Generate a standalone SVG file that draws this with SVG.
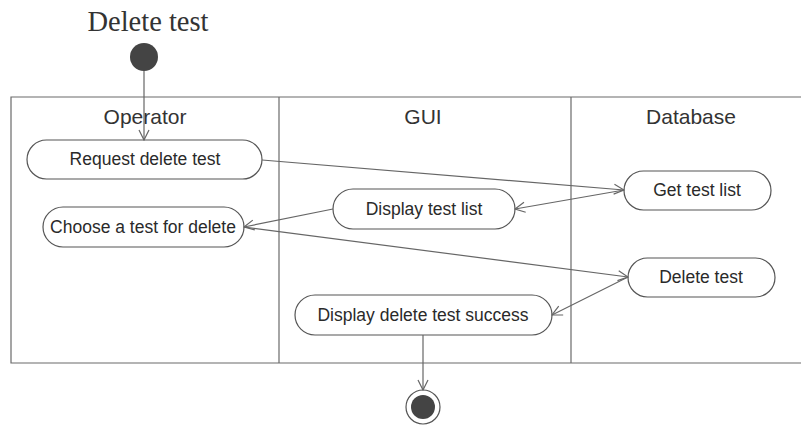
<svg xmlns="http://www.w3.org/2000/svg" width="801" height="425" viewBox="0 0 801 425">
<defs>
<style>
.lane{fill:none;stroke:#6a6a6a;stroke-width:1.2}
.node rect{fill:#fff;stroke:#555;stroke-width:1.2}
.node text{font-family:"Liberation Sans",Arial,sans-serif;font-size:17.5px;fill:#2a2a2a;text-anchor:middle;dominant-baseline:central}
.hdr{font-family:"Liberation Sans",Arial,sans-serif;font-size:21px;fill:#333;text-anchor:middle}
.edge{fill:none;stroke:#666;stroke-width:1.2;marker-end:url(#arr)}
</style>
<marker id="arr" viewBox="0 0 12 12" refX="11" refY="6" markerWidth="12" markerHeight="12" markerUnits="userSpaceOnUse" orient="auto">
<path d="M1,1 L11,6 L1,11" fill="none" stroke="#666" stroke-width="1.2"/>
</marker>
</defs>
<rect width="801" height="425" fill="#fff"/>
<text x="148" y="31" font-family="Liberation Serif,'Times New Roman',serif" font-size="28.5" fill="#333" text-anchor="middle">Delete test</text>
<g id="lanes">
<path class="lane" d="M801,97 H11 V363 H801"/>
<line class="lane" x1="279" y1="97" x2="279" y2="363"/>
<line class="lane" x1="571" y1="97" x2="571" y2="363"/>
<text class="hdr" x="145" y="124">Operator</text>
<text class="hdr" x="423" y="124">GUI</text>
<text class="hdr" x="691" y="124">Database</text>
</g>
<g id="start"><circle cx="144" cy="57" r="14" fill="#444"/></g>
<g id="request" class="node"><rect x="27" y="140" width="235" height="39" rx="19.5"/><text x="145" y="159">Request delete test</text></g>
<g id="choose" class="node"><rect x="43" y="207" width="201" height="40" rx="20"/><text x="143" y="227">Choose a test for delete</text></g>
<g id="display-list" class="node"><rect x="333" y="189" width="182" height="40" rx="20"/><text x="424" y="209">Display test list</text></g>
<g id="display-success" class="node"><rect x="295" y="295" width="257" height="40" rx="20"/><text x="423" y="315">Display delete test success</text></g>
<g id="get-list" class="node"><rect x="624" y="171" width="147" height="39" rx="19.5"/><text x="697" y="190">Get test list</text></g>
<g id="delete" class="node"><rect x="628" y="258" width="147" height="39" rx="19.5"/><text x="701" y="277">Delete test</text></g>
<g id="end"><circle cx="423" cy="407" r="17" fill="#fff" stroke="#555" stroke-width="1.2"/><circle cx="423" cy="407" r="12" fill="#444"/></g>
<g id="connectors">
<path class="edge" d="M144,71 V140"/>
<path class="edge" d="M262,160 L624,190"/>
<path class="edge" d="M624,190 L515,209"/>
<path class="edge" d="M333,209 L244,227"/>
<path class="edge" d="M244,227 L628,277"/>
<path class="edge" d="M628,277 L552,315"/>
<path class="edge" d="M423,335 V390"/>
</g>
</svg>
